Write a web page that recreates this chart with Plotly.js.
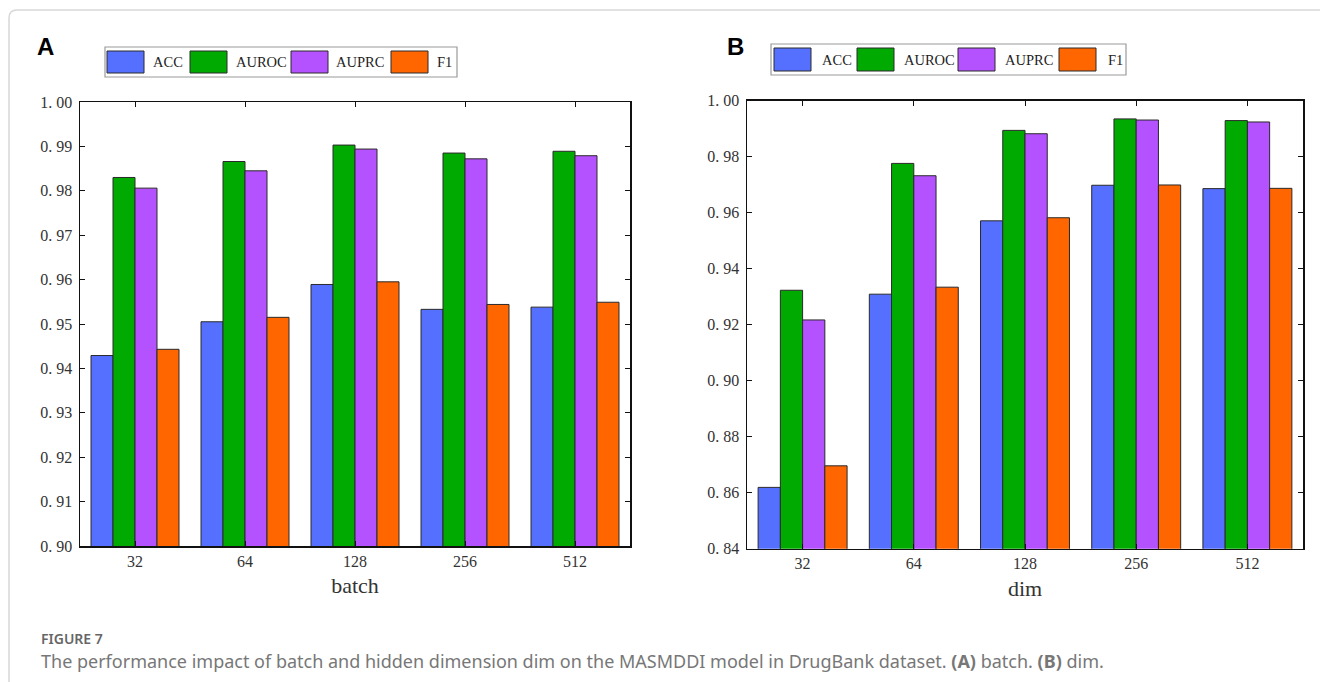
<!DOCTYPE html>
<html><head><meta charset="utf-8">
<script src="https://cdn.plot.ly/plotly-3.0.1.min.js"></script>
<style>html,body{margin:0;padding:0;background:#fff;}#chart{width:1320px;height:682px;}</style>
</head><body><div id="chart"></div>
<script>
// ---- data ----
const categories = ['32', '64', '128', '256', '512'];
const seriesNames = ['ACC', 'AUROC', 'AUPRC', 'F1'];
const seriesColors = ['#5570FF', '#00AA00', '#B552FF', '#FF6600'];

// Panel A: batch
const batchACC   = [0.9429, 0.9505, 0.9589, 0.9533, 0.9538];
const batchAUROC = [0.9830, 0.9866, 0.9903, 0.9885, 0.9889];
const batchAUPRC = [0.9806, 0.9845, 0.9894, 0.9872, 0.9879];
const batchF1    = [0.9443, 0.9515, 0.9595, 0.9544, 0.9549];

// Panel B: dim
const dimACC   = [0.8619, 0.9309, 0.9571, 0.9698, 0.9686];
const dimAUROC = [0.9323, 0.9776, 0.9894, 0.9935, 0.9929];
const dimAUPRC = [0.9217, 0.9732, 0.9882, 0.9931, 0.9924];
const dimF1    = [0.8696, 0.9334, 0.9582, 0.9699, 0.9687];

const yTicksA = [0.90, 0.91, 0.92, 0.93, 0.94, 0.95, 0.96, 0.97, 0.98, 0.99, 1.00];
const yTicksB = [0.84, 0.86, 0.88, 0.90, 0.92, 0.94, 0.96, 0.98, 1.00];

const xTitleA = 'batch';
const xTitleB = 'dim';
const captionHead = 'FIGURE 7';
const captionText = 'The performance impact of batch and hidden dimension dim on the MASMDDI model in DrugBank dataset. <b>(A)</b> batch. <b>(B)</b> dim.';

// ---- layout helpers ----
const W = 1320, H = 682;
const px = x => x / W;
const py = y => 1 - y / H;
const fmtTick = v => v.toFixed(2).replace('.', '. ');
const serif = '"Liberation Serif", "DejaVu Serif", serif';

const dataA = [batchACC, batchAUROC, batchAUPRC, batchF1];
const dataB = [dimACC, dimAUROC, dimAUPRC, dimF1];

const traces = [];
seriesNames.forEach((name, i) => {
  traces.push({type: 'bar', name: name, x: categories, y: dataA[i], xaxis: 'x', yaxis: 'y',
    marker: {color: seriesColors[i], line: {color: '#2a2a2a', width: 1}}, showlegend: false});
  traces.push({type: 'bar', name: name, x: categories, y: dataB[i], xaxis: 'x2', yaxis: 'y2',
    marker: {color: seriesColors[i], line: {color: '#2a2a2a', width: 1}}, showlegend: false});
});

function xAxis(domain, title, anchor) {
  return {domain: domain, anchor: anchor, type: 'category', range: [-0.5, 4.5], showline: true, linecolor: '#111', linewidth: 1.5,
    mirror: 'ticks', ticks: 'inside', ticklen: 5, tickcolor: '#111', showgrid: false, zeroline: false,
    tickfont: {family: serif, size: 16, color: '#333'},
    title: {text: title, font: {family: serif, size: 22, color: '#333'}, standoff: 9}};
}
function yAxis(domain, anchor, ticks, rng) {
  return {domain: domain, anchor: anchor, range: rng, showline: true, linecolor: '#111', linewidth: 1.5,
    mirror: 'ticks', ticks: 'inside', ticklen: 5, tickcolor: '#111', showgrid: false, zeroline: false,
    ticklabelstandoff: 3,
    tickvals: ticks, ticktext: ticks.map(fmtTick), tickfont: {family: serif, size: 16, color: '#333'}};
}

const shapes = [];
const annotations = [];

// card border
shapes.push({type: 'path', xref: 'paper', yref: 'paper',
  path: `M ${px(9)},${py(690)} L ${px(9)},${py(18)} Q ${px(9)},${py(10)} ${px(17)},${py(10)} L ${px(1330)},${py(10)}`,
  line: {color: '#d8d8d8', width: 1.5}});

// custom legends
function legend(box, swatches, texts) {
  shapes.push({type: 'rect', xref: 'paper', yref: 'paper', x0: px(box[0]), x1: px(box[1]), y0: py(box[3]), y1: py(box[2]),
    line: {color: '#9a9a9a', width: 1.2}, fillcolor: '#fff'});
  seriesNames.forEach((n, i) => {
    shapes.push({type: 'rect', xref: 'paper', yref: 'paper', x0: px(swatches[i]), x1: px(swatches[i] + 37),
      y0: py(box[3] - 4), y1: py(box[2] + 4), line: {color: '#2a2a2a', width: 1}, fillcolor: seriesColors[i]});
    annotations.push({xref: 'paper', yref: 'paper', x: px(texts[i]), y: py((box[2] + box[3]) / 2), xanchor: 'left', yanchor: 'middle',
      text: n, showarrow: false, font: {family: serif, size: 14.5, color: '#222'}});
  });
}
legend([105, 457, 47, 77], [107, 190, 291, 391], [151, 234, 334, 435]);
legend([771, 1126, 44, 75], [774, 857, 958, 1059], [820, 902, 1003, 1106]);

// panel letters
annotations.push({xref: 'paper', yref: 'paper', x: px(35), y: py(47), xanchor: 'left', yanchor: 'middle', text: '<b>A</b>',
  showarrow: false, font: {family: '"Liberation Sans", Arial, sans-serif', size: 24, color: '#000'}});
annotations.push({xref: 'paper', yref: 'paper', x: px(725), y: py(47), xanchor: 'left', yanchor: 'middle', text: '<b>B</b>',
  showarrow: false, font: {family: '"Liberation Sans", Arial, sans-serif', size: 24, color: '#000'}});

// caption
annotations.push({xref: 'paper', yref: 'paper', x: px(39), y: py(638), xanchor: 'left', yanchor: 'middle', text: captionHead,
  showarrow: false, font: {family: '"Noto Sans", sans-serif', size: 14, weight: 600, color: '#666'}});
annotations.push({xref: 'paper', yref: 'paper', x: px(39), y: py(661), xanchor: 'left', yanchor: 'middle', text: captionText,
  showarrow: false, font: {family: '"Noto Sans", sans-serif', size: 18, color: '#777'}});

const layout = {
  width: W, height: H, margin: {l: 0, r: 0, t: 0, b: 0}, paper_bgcolor: '#fff', plot_bgcolor: '#fff',
  barmode: 'group', bargap: 0.2, bargroupgap: 0, showlegend: false,
  xaxis: xAxis([px(80), px(630)], xTitleA, 'y'),
  yaxis: yAxis([py(546), py(102)], 'x', yTicksA, [0.90, 1.00]),
  xaxis2: xAxis([px(747), px(1303)], xTitleB, 'y2'),
  yaxis2: yAxis([py(548.7), py(100.7)], 'x2', yTicksB, [0.84, 1.00]),
  shapes: shapes, annotations: annotations
};
Plotly.newPlot('chart', traces, layout, {staticPlot: true, displayModeBar: false});
</script></body></html>
